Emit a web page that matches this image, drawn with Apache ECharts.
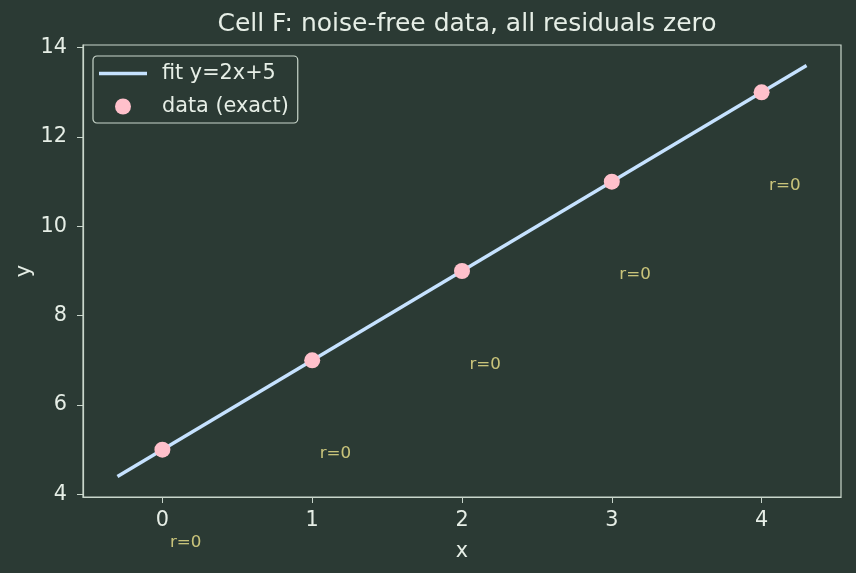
<!DOCTYPE html>
<html>
<head>
<meta charset="utf-8">
<script src="https://cdn.jsdelivr.net/npm/echarts@6/dist/echarts.min.js"></script>
<style>
  html, body { margin: 0; padding: 0; background: #2b3a34; }
  #main { width: 856px; height: 573px; }
</style>
</head>
<body>
<div id="main"></div>
<script>
// data
var xs = [0, 1, 2, 3, 4]
var ys = [5, 7, 9, 11, 13]
var fitX = [-0.3, 4.3]
var fitY = [4.4, 13.6]
var residualLabels = ['r=0', 'r=0', 'r=0', 'r=0', 'r=0']
var xTicks = [0, 1, 2, 3, 4]
var yTicks = [4, 6, 8, 10, 12, 14]

var bg = '#2b3a34'
var fg = '#e6eee6'
var spine = '#c9d6cb'
var font = 'DejaVu Sans'

var fitData = fitX.map(function (x, i) { return [x, fitY[i]] })
var pts = xs.map(function (x, i) { return [x, ys[i]] })
// annotations sit a little right of and 2 below each point
var notes = xs.map(function (x, i) { return [x + 0.05, ys[i] - 2.09, residualLabels[i]] })

var chart = echarts.init(document.getElementById('main'))
chart.setOption({
  backgroundColor: bg,
  animation: false,
  textStyle: { fontFamily: font },
  title: {
    text: 'Cell F: noise-free data, all residuals zero',
    left: 462, top: 7, textAlign: 'center',
    textStyle: { color: fg, fontSize: 25, fontWeight: 'normal', fontFamily: font }
  },
  grid: {
    left: 83, right: 15, top: 45, bottom: 76,
    show: true, borderColor: spine, borderWidth: 1.2, backgroundColor: 'transparent'
  },
  legend: {
    orient: 'vertical', left: 93, top: 56,
    padding: [7, 9, 6, 6], itemGap: 12,
    itemWidth: 48, itemHeight: 16,
    backgroundColor: bg, borderColor: spine, borderWidth: 1.2, borderRadius: 4,
    textStyle: { color: fg, fontSize: 20.8, fontFamily: font, padding: [0, 0, 0, 10] },
    data: [
      { name: 'fit y=2x+5', icon: 'path://M0,0H48V3.4H0Z' },
      { name: 'data (exact)', icon: 'circle' }
    ]
  },
  xAxis: {
    type: 'value', min: -0.53, max: 4.53,
    name: 'x', nameLocation: 'middle', nameGap: 44,
    nameTextStyle: { color: fg, fontSize: 20.8, fontFamily: font },
    axisLine: { show: true, onZero: false, lineStyle: { color: spine, width: 1.2 } },
    axisTick: { show: true, length: 6, customValues: xTicks, lineStyle: { color: spine } },
    axisLabel: { color: fg, fontSize: 20.8, margin: 13, customValues: xTicks, fontFamily: font },
    splitLine: { show: false }
  },
  yAxis: {
    type: 'value', min: 3.94, max: 14.06,
    name: 'y', nameLocation: 'middle', nameGap: 48, nameMoveOverlap: false,
    nameTextStyle: { color: fg, fontSize: 20.8, fontFamily: font },
    axisLine: { show: true, onZero: false, lineStyle: { color: spine, width: 1.2 } },
    axisTick: { show: true, length: 6, customValues: yTicks, lineStyle: { color: spine } },
    axisLabel: { color: fg, fontSize: 20.8, margin: 16, customValues: yTicks, fontFamily: font },
    splitLine: { show: false }
  },
  series: [
    {
      name: 'fit y=2x+5', type: 'line', data: fitData,
      symbol: 'none', z: 2,
      lineStyle: { color: '#c6e2ff', width: 3.4 },
      itemStyle: { color: '#c6e2ff' }
    },
    {
      name: 'data (exact)', type: 'scatter', data: pts,
      symbolSize: 16, z: 3,
      itemStyle: { color: '#ffc0cb', opacity: 1 }
    },
    {
      name: 'notes', type: 'scatter', data: notes,
      symbolSize: 0, clip: false, silent: true,
      label: {
        show: true, position: 'right', distance: 0,
        formatter: function (p) { return p.data[2] },
        color: '#f0e68c', fontSize: 16.7, fontFamily: font, align: 'left', verticalAlign: 'middle'
      }
    }
  ]
})
</script>
</body>
</html>
